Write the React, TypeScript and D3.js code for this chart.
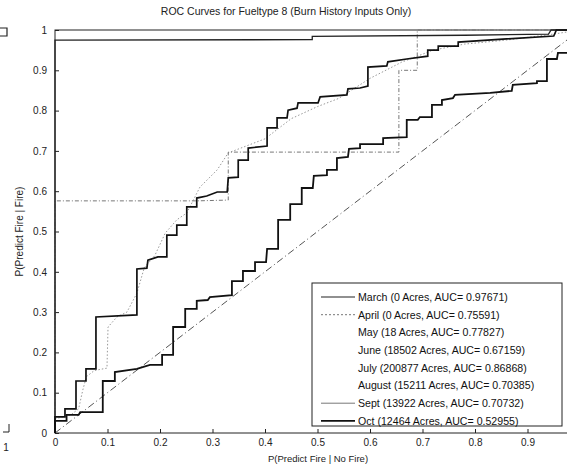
import React, { useRef, useEffect } from 'react';
import * as d3 from 'd3';

type Pt = [number, number];

const title = 'ROC Curves for Fueltype 8 (Burn History Inputs Only)';
const xLabel = 'P(Predict Fire | No Fire)';
const yLabel = 'P(Predict Fire | Fire)';

const tickValues = [0, 0.1, 0.2, 0.3, 0.4, 0.5, 0.6, 0.7, 0.8, 0.9];
const yTickValues = [0, 0.1, 0.2, 0.3, 0.4, 0.5, 0.6, 0.7, 0.8, 0.9, 1];
const tickLabels = ['0', '0.1', '0.2', '0.3', '0.4', '0.5', '0.6', '0.7', '0.8', '0.9', '1'];

const legendLabels = [
  'March (0 Acres, AUC= 0.97671)',
  'April (0 Acres, AUC= 0.75591)',
  'May (18 Acres, AUC= 0.77827)',
  'June (18502 Acres, AUC= 0.67159)',
  'July (200877 Acres, AUC= 0.86868)',
  'August (15211 Acres, AUC= 0.70385)',
  'Sept (13922 Acres, AUC= 0.70732)',
  'Oct (12464 Acres, AUC= 0.52955)',
];

const march: Pt[] = [
  [0, 0], [0, 0.975], [0.49, 0.976], [0.49, 0.984], [0.78, 0.987], [0.94, 0.99], [0.945, 1], [1, 1],
];

const april: Pt[] = [
  [0, 0], [0, 0.576], [0.27, 0.576], [0.33, 0.578], [0.33, 0.697], [0.655, 0.697],
  [0.655, 0.9], [0.69, 0.9], [0.69, 1], [1, 1],
];

const august: Pt[] = [
  [0, 0], [0, 0.035], [0.03, 0.045], [0.045, 0.06], [0.053, 0.107], [0.06, 0.14], [0.075, 0.155],
  [0.099, 0.161], [0.101, 0.263], [0.118, 0.288], [0.137, 0.3], [0.156, 0.347], [0.17, 0.41],
  [0.19, 0.44], [0.21, 0.496], [0.232, 0.529], [0.251, 0.546], [0.276, 0.61], [0.309, 0.653],
  [0.33, 0.695], [0.4, 0.73], [0.45, 0.78], [0.5, 0.81], [0.54, 0.83], [0.6, 0.88], [0.66, 0.92],
  [0.72, 0.95], [0.78, 0.965], [0.86, 0.975], [0.95, 0.99], [1, 1],
];

const sept: Pt[] = [
  [0, 0], [0, 0.04], [0.019, 0.04], [0.019, 0.06], [0.04, 0.06], [0.04, 0.129], [0.059, 0.129],
  [0.059, 0.159], [0.078, 0.159], [0.078, 0.288], [0.156, 0.293], [0.156, 0.407], [0.175, 0.409],
  [0.177, 0.429], [0.196, 0.437], [0.213, 0.437], [0.213, 0.491], [0.232, 0.491], [0.232, 0.516],
  [0.251, 0.516], [0.251, 0.561], [0.27, 0.561], [0.27, 0.583], [0.289, 0.588], [0.309, 0.598],
  [0.328, 0.598], [0.33, 0.633], [0.349, 0.635], [0.349, 0.677], [0.368, 0.677], [0.368, 0.707],
  [0.404, 0.712], [0.404, 0.757], [0.423, 0.757], [0.423, 0.782], [0.442, 0.782], [0.444, 0.801],
  [0.461, 0.806], [0.463, 0.819], [0.501, 0.819], [0.505, 0.834], [0.556, 0.839], [0.558, 0.854],
  [0.581, 0.856], [0.596, 0.861], [0.596, 0.908], [0.632, 0.911], [0.634, 0.921], [0.67, 0.928],
  [0.71, 0.935], [0.71, 0.95], [0.73, 0.95], [0.73, 0.96], [0.768, 0.96], [0.768, 0.97],
  [0.86, 0.978], [0.95, 0.985], [0.955, 1], [1, 1],
];

const oct: Pt[] = [
  [0, 0], [0, 0.03], [0.022, 0.03], [0.022, 0.045], [0.045, 0.045], [0.048, 0.052], [0.091, 0.052],
  [0.091, 0.129], [0.114, 0.129], [0.114, 0.151], [0.156, 0.159], [0.181, 0.169], [0.204, 0.169],
  [0.204, 0.194], [0.225, 0.194], [0.225, 0.263], [0.248, 0.263], [0.248, 0.308], [0.27, 0.308],
  [0.27, 0.328], [0.291, 0.33], [0.295, 0.337], [0.337, 0.342], [0.337, 0.377], [0.358, 0.377],
  [0.358, 0.402], [0.381, 0.402], [0.381, 0.424], [0.402, 0.424], [0.404, 0.457], [0.425, 0.457],
  [0.425, 0.529], [0.448, 0.529], [0.448, 0.568], [0.47, 0.568], [0.47, 0.608], [0.491, 0.608],
  [0.493, 0.638], [0.518, 0.64], [0.518, 0.653], [0.537, 0.653], [0.537, 0.682], [0.558, 0.685],
  [0.56, 0.705], [0.581, 0.707], [0.581, 0.717], [0.625, 0.717], [0.625, 0.732], [0.67, 0.734],
  [0.67, 0.777], [0.691, 0.777], [0.695, 0.784], [0.718, 0.784], [0.718, 0.814], [0.737, 0.814],
  [0.737, 0.826], [0.758, 0.831], [0.762, 0.839], [0.829, 0.844], [0.87, 0.849], [0.872, 0.864],
  [0.918, 0.868], [0.918, 0.873], [0.937, 0.873], [0.937, 0.928], [0.956, 0.928], [0.958, 0.943],
  [0.98, 0.943], [0.98, 1], [1, 1],
];

const chance: Pt[] = [[0, 0], [1, 1]];

const App = () => {
  const ref = useRef<HTMLDivElement>(null);

  useEffect(() => {
    if (!ref.current) return;
    d3.select(ref.current).select('svg').remove();

    const width = 567;
    const height = 470;
    const font = 'Liberation Sans, Arial, sans-serif';

    const svg = d3.select(ref.current)
      .append('svg')
      .attr('width', width)
      .attr('height', height)
      .style('position', 'absolute')
      .style('left', 0)
      .style('top', 0)
      .style('background', '#fff');

    const x = d3.scaleLinear().domain([0, 1]).range([55, 580]);
    const y = d3.scaleLinear().domain([0, 1]).range([433, 30]);

    // frame
    svg.append('rect')
      .attr('x', x(0)).attr('y', y(1))
      .attr('width', x(1) - x(0)).attr('height', y(0) - y(1))
      .attr('fill', 'none').attr('stroke', '#222').attr('stroke-width', 1);

    const xAxis = svg.append('g')
      .attr('transform', `translate(0,${y(0)})`)
      .call(d3.axisBottom(x).tickValues(tickValues).tickSize(-4).tickPadding(6)
        .tickFormat((d, i) => tickLabels[i]));
    const yAxis = svg.append('g')
      .attr('transform', `translate(${x(0)},0)`)
      .call(d3.axisLeft(y).tickValues(yTickValues).tickSize(-4).tickPadding(8)
        .tickFormat((d, i) => tickLabels[i]));
    [xAxis, yAxis].forEach(a => {
      a.select('.domain').remove();
      a.selectAll('line').attr('stroke', '#222');
      a.selectAll('text').attr('font-family', font).attr('font-size', 10).attr('fill', '#222');
    });

    const line = d3.line<Pt>().x(d => x(d[0])).y(d => y(d[1]));

    const series = [
      { data: chance, stroke: '#555', width: 1, dash: '7,3,1,3' },
      { data: august, stroke: '#999', width: 1, dash: '1.5,2' },
      { data: april, stroke: '#777', width: 1, dash: '4,2,1,2' },
      { data: march, stroke: '#222', width: 1.3, dash: null },
      { data: sept, stroke: '#111', width: 1.7, dash: null },
      { data: oct, stroke: '#111', width: 1.8, dash: null },
    ];

    series.forEach(s => {
      svg.append('path')
        .datum(s.data)
        .attr('fill', 'none')
        .attr('stroke', s.stroke)
        .attr('stroke-width', s.width)
        .attr('stroke-dasharray', s.dash)
        .attr('d', line);
    });

    // legend
    const lg = svg.append('g');
    lg.append('rect')
      .attr('x', 312).attr('y', 283).attr('width', 250).attr('height', 143)
      .attr('fill', '#fff').attr('stroke', '#222').attr('stroke-width', 1);
    const samples: ({ stroke: string; width: number; dash: string | null } | null)[] = [
      { stroke: '#222', width: 1.2, dash: null },
      { stroke: '#777', width: 1, dash: '2,2' },
      null, null, null, null,
      { stroke: '#777', width: 1, dash: null },
      { stroke: '#111', width: 1.6, dash: null },
    ];
    legendLabels.forEach((label, i) => {
      const yy = 297 + i * 17.7;
      const s = samples[i];
      if (s) {
        lg.append('line')
          .attr('x1', 321).attr('x2', 355).attr('y1', yy).attr('y2', yy)
          .attr('stroke', s.stroke).attr('stroke-width', s.width)
          .attr('stroke-dasharray', s.dash);
      }
      lg.append('text')
        .attr('x', 358).attr('y', yy + 3.8)
        .attr('font-family', font).attr('font-size', 10.6).attr('fill', '#111')
        .text(label);
    });

    svg.append('text')
      .attr('x', 286).attr('y', 15)
      .attr('text-anchor', 'middle')
      .attr('font-family', font).attr('font-size', 10.5).attr('fill', '#222')
      .text(title);
    svg.append('text')
      .attr('x', 318).attr('y', 462)
      .attr('text-anchor', 'middle')
      .attr('font-family', font).attr('font-size', 9.5).attr('fill', '#222')
      .text(xLabel);
    svg.append('text')
      .attr('transform', `translate(23,${(y(0) + y(1)) / 2}) rotate(-90)`)
      .attr('text-anchor', 'middle')
      .attr('font-family', font).attr('font-size', 10).attr('fill', '#222')
      .text(yLabel);

    // fragments of a neighbouring figure at the left edge
    svg.append('path')
      .attr('d', 'M0,28 H7 V36 H0')
      .attr('fill', 'none').attr('stroke', '#222').attr('stroke-width', 1.2);
    svg.append('path')
      .attr('d', 'M9,424 V432 H3')
      .attr('fill', 'none').attr('stroke', '#222').attr('stroke-width', 1);
    svg.append('text')
      .attr('x', 6).attr('y', 451).attr('text-anchor', 'middle')
      .attr('font-family', font).attr('font-size', 10).attr('fill', '#222')
      .text('1');
  }, []);

  return <div ref={ref}></div>;
};

export default App;
